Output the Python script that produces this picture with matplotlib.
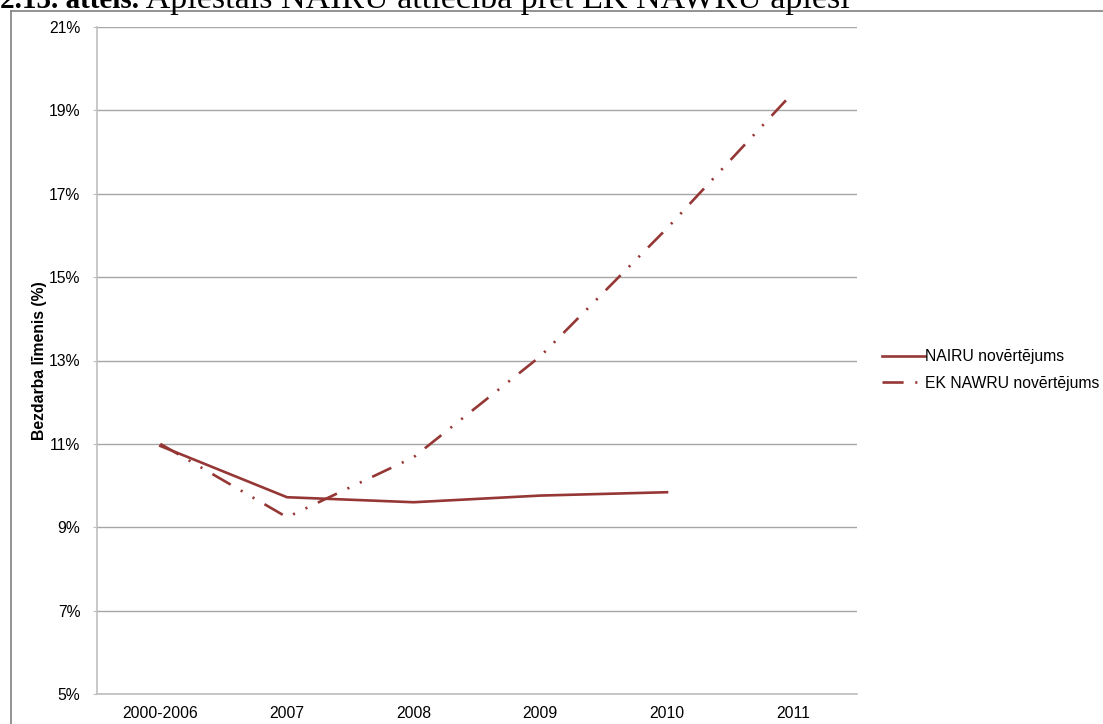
import matplotlib
matplotlib.use("Agg")
import matplotlib.pyplot as plt
from matplotlib.lines import Line2D

plt.rcParams["font.family"] = ["Liberation Sans", "DejaVu Sans"]

CATEGORIES = ["2000-2006", "2007", "2008", "2009", "2010", "2011"]
NAIRU = [10.95, 9.72, 9.60, 9.76, 9.84]
EK_NAWRU = [11.0, 9.24, 10.68, 13.1, 16.17, 19.44]
Y_TICKS = [5, 7, 9, 11, 13, 15, 17, 19, 21]

LABEL_NAIRU = "NAIRU novērtējums"
LABEL_NAWRU = "EK NAWRU novērtējums"
Y_LABEL = "Bezdarba līmenis (%)"
TITLE_BOLD = "2.13. attēls."
TITLE_REST = " Aplēstais NAIRU attiecībā pret EK NAWRU aplēsi"

LINE_COLOR = "#953735"
GRID_COLOR = "#A6A6A6"
AXIS_COLOR = "#BFBFBF"
FS = 11.3
DASH_DOT_DOT = (0, (8, 4.4, 0.8, 4.4, 0.8, 4.4))

W, H = 1103, 724
fig = plt.figure(figsize=(W / 100, H / 100), dpi=100)
ax = fig.add_axes([97 / W, 1 - 694 / H, (857 - 97) / W, (694 - 27) / H])

xx = list(range(len(CATEGORIES)))
ax.plot(xx[:len(NAIRU)], NAIRU, color=LINE_COLOR, lw=1.9, label=LABEL_NAIRU,
        solid_joinstyle="round")
ax.plot(xx, EK_NAWRU, color=LINE_COLOR, lw=1.9, label=LABEL_NAWRU,
        linestyle=DASH_DOT_DOT)

ax.set_xlim(-0.5, len(CATEGORIES) - 0.5)
ax.set_ylim(Y_TICKS[0], Y_TICKS[-1])
ax.set_xticks(xx)
ax.set_xticklabels(CATEGORIES, fontsize=FS)
ax.set_yticks(Y_TICKS)
ax.set_yticklabels([f"{v}%" for v in Y_TICKS], fontsize=FS)
ax.tick_params(axis="x", length=0, pad=9)
ax.tick_params(axis="y", length=3, color=AXIS_COLOR, pad=9)
ax.yaxis.grid(True, color=GRID_COLOR, lw=1)
ax.set_axisbelow(True)
for side in ("top", "right"):
    ax.spines[side].set_visible(False)
for side in ("left", "bottom"):
    ax.spines[side].set_color(AXIS_COLOR)
    ax.spines[side].set_linewidth(1.2)
ax.set_ylabel(Y_LABEL, fontsize=FS, fontweight="bold")
ax.yaxis.set_label_coords((47 - 97) / (857 - 97), 0.5)

handles = [
    Line2D([], [], color=LINE_COLOR, lw=1.9),
    Line2D([], [], color=LINE_COLOR, lw=1.9, linestyle=DASH_DOT_DOT),
]
fig.legend(handles, [LABEL_NAIRU, LABEL_NAWRU], loc="center left",
           bbox_to_anchor=(868 / W, 1 - 370 / H), frameon=False, fontsize=FS,
           handlelength=2.7, handletextpad=0.05, labelspacing=0.75)

# outer chart frame (only left and top edges are inside the picture)
fig.add_artist(Line2D([11 / W, 11 / W], [0, 1 - 11 / H], color="#808080", lw=1.2,
                      transform=fig.transFigure))
fig.add_artist(Line2D([11 / W, 1], [1 - 11 / H, 1 - 11 / H], color="#808080", lw=1.2,
                      transform=fig.transFigure))

# clipped caption above the chart
t1 = fig.text(0.0, 1 - 8 / H, TITLE_BOLD, fontsize=21, fontweight="bold",
              family=["Liberation Serif", "DejaVu Serif"], va="baseline", ha="left")
fig.canvas.draw()
bb = t1.get_window_extent()
fig.text(bb.x1 / W, 1 - 8 / H, TITLE_REST, fontsize=24.5,
         family=["Liberation Serif", "DejaVu Serif"], va="baseline", ha="left")

fig.savefig("out.png", dpi=100)
